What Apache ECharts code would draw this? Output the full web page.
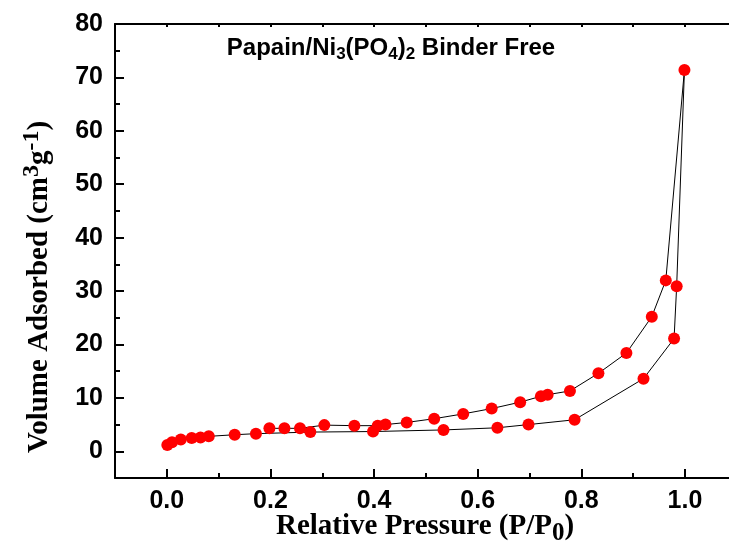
<!DOCTYPE html>
<html><head><meta charset="utf-8">
<script src="https://cdn.jsdelivr.net/npm/echarts@6/dist/echarts.min.js"></script>
<style>html,body{margin:0;padding:0;background:#fff}#c{width:729px;height:550px}</style>
</head><body><div id="c"></div>
<script>
// Adsorption branch (lower)
const adsP = [0.001, 0.010, 0.027, 0.048, 0.065, 0.081, 0.131, 0.172, 0.277, 0.398, 0.534, 0.638, 0.698, 0.787, 0.920, 0.979, 0.984, 0.999];
const adsV = [1.2, 1.7, 2.2, 2.5, 2.6, 2.8, 3.1, 3.3, 3.6, 3.7, 4.0, 4.4, 5.0, 5.9, 13.6, 21.1, 30.9, 71.4];
// Desorption branch (upper)
const desP = [0.999, 0.963, 0.936, 0.887, 0.833, 0.778, 0.735, 0.722, 0.682, 0.627, 0.572, 0.516, 0.463, 0.422, 0.407, 0.362, 0.304, 0.257, 0.227, 0.198];
const desV = [71.4, 32.0, 25.2, 18.4, 14.6, 11.3, 10.6, 10.3, 9.2, 8.0, 7.0, 6.1, 5.4, 5.0, 4.8, 4.8, 4.9, 4.3, 4.3, 4.3];
// Tick values
const xMajor = [0, 0.2, 0.4, 0.6, 0.8, 1.0];
const xMinor = [0.1, 0.3, 0.5, 0.7, 0.9];
const xTop = [0, 0.1, 0.2, 0.3, 0.4, 0.5, 0.6, 0.7, 0.8, 0.9, 1.0];
const yMajor = [0, 10, 20, 30, 40, 50, 60, 70, 80];
const yMinor = [5, 15, 25, 35, 45, 55, 65, 75];

const ads = adsP.map((p, i) => [p, adsV[i]]);
const des = desP.map((p, i) => [p, desV[i]]);
const allPts = ads.concat(des.slice(1));

const SANS = 'Liberation Sans, Arial, sans-serif';
const SERIF = 'Liberation Serif, Times New Roman, serif';
const blk = () => ({color: '#000', width: 2});
const X_MIN = -0.1, X_MAX = 1.085, Y_MIN = -5, Y_MAX = 80;

const chart = echarts.init(document.getElementById('c'), null, {renderer: 'canvas'});
chart.setOption({
  animation: false,
  backgroundColor: '#fff',
  grid: {left: 115, top: 24, right: 0, height: 454, containLabel: false},
  xAxis: [
    {type: 'value', position: 'bottom', min: X_MIN, max: X_MAX,
     axisLine: {show: true, onZero: false, lineStyle: blk()},
     axisTick: {show: true, inside: true, length: 9, lineStyle: blk(), customValues: xMajor},
     axisLabel: {show: true, customValues: xMajor, formatter: v => v.toFixed(1), fontSize: 25, fontWeight: 'bold', fontFamily: SANS, color: '#000', margin: 11},
     splitLine: {show: false}},
    {type: 'value', position: 'bottom', min: X_MIN, max: X_MAX,
     axisLine: {show: false, onZero: false},
     axisTick: {show: true, inside: true, length: 5, lineStyle: blk(), customValues: xMinor},
     axisLabel: {show: false}, splitLine: {show: false}},
    {type: 'value', position: 'top', min: X_MIN, max: X_MAX,
     axisLine: {show: true, onZero: false, lineStyle: blk()},
     axisTick: {show: true, inside: true, length: 3, lineStyle: blk(), customValues: xTop},
     axisLabel: {show: false}, splitLine: {show: false}}
  ],
  yAxis: [
    {type: 'value', position: 'left', min: Y_MIN, max: Y_MAX,
     axisLine: {show: true, onZero: false, lineStyle: blk()},
     axisTick: {show: true, inside: true, length: 9, lineStyle: blk(), customValues: yMajor},
     axisLabel: {show: true, customValues: yMajor, fontSize: 25, fontWeight: 'bold', fontFamily: SANS, color: '#000', margin: 12},
     splitLine: {show: false}},
    {type: 'value', position: 'left', min: Y_MIN, max: Y_MAX,
     axisLine: {show: false, onZero: false},
     axisTick: {show: true, inside: true, length: 5, lineStyle: blk(), customValues: yMinor},
     axisLabel: {show: false}, splitLine: {show: false}}
  ],
  series: [
    {type: 'line', data: ads, showSymbol: false, lineStyle: {color: '#000', width: 1}, z: 2, silent: true},
    {type: 'line', data: des, showSymbol: false, lineStyle: {color: '#000', width: 1}, z: 2, silent: true},
    {type: 'scatter', data: allPts, symbol: 'circle', symbolSize: 12, itemStyle: {color: '#ff0000', opacity: 1}, z: 3}
  ],
  graphic: [
    {type: 'text', x: 391, y: 48, style: {
      text: '{a|Papain/Ni}{s|3}{a|(PO}{s|4}{a|)}{s|2}{a| Binder Free}',
      align: 'center', verticalAlign: 'middle', fill: '#000',
      rich: {
        a: {fontSize: 24, fontWeight: 'bold', fontFamily: SANS, fill: '#000', lineHeight: 27},
        s: {fontSize: 17, fontWeight: 'bold', fontFamily: SANS, fill: '#000', lineHeight: 17, padding: [13, 0, 0, 0]}
      }}},
    {type: 'text', x: 425, y: 527, style: {
      text: '{a|Relative Pressure (P/P}{s|0}{a|)}',
      align: 'center', verticalAlign: 'middle', fill: '#000',
      rich: {
        a: {fontSize: 29, fontWeight: 'bold', fontFamily: SERIF, fill: '#000', lineHeight: 31},
        s: {fontSize: 25, fontWeight: 'bold', fontFamily: SERIF, fill: '#000', lineHeight: 25, padding: [13, 0, 0, 0]}
      }}},
    {type: 'text', x: 40, y: 287, rotation: Math.PI / 2, style: {
      text: '{a|Volume Adsorbed (cm}{p|3}{a|g}{p|-1}{a|)}',
      align: 'center', verticalAlign: 'middle', fill: '#000',
      rich: {
        a: {fontSize: 29, fontWeight: 'bold', fontFamily: SERIF, fill: '#000', lineHeight: 31},
        p: {fontSize: 24, fontWeight: 'bold', fontFamily: SERIF, fill: '#000', lineHeight: 24, padding: [0, 0, 16, 0]}
      }}}
  ]
});
</script></body></html>
